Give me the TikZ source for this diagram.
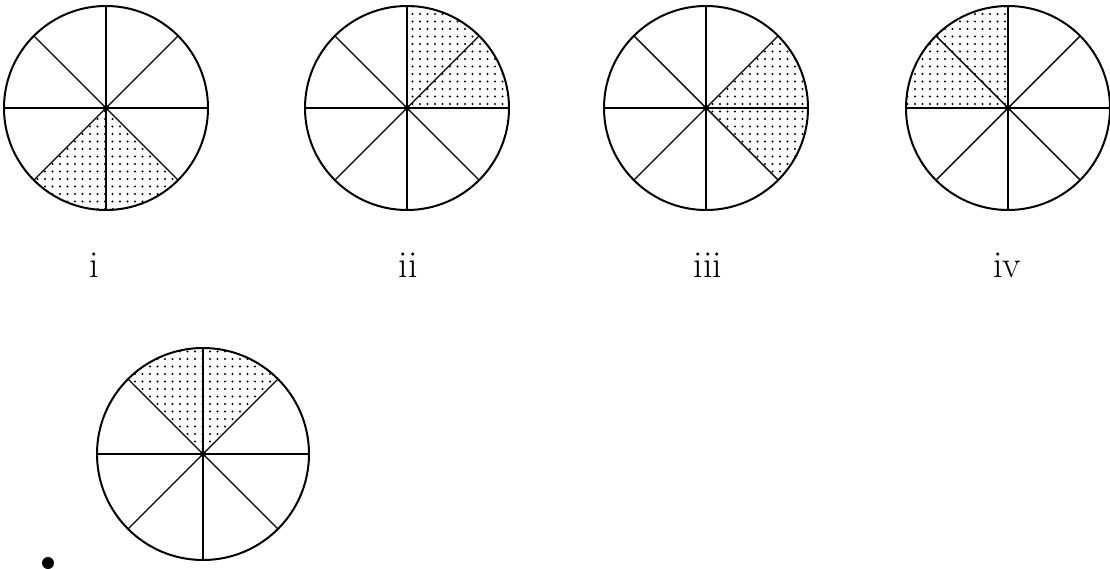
\documentclass[tikz,border=0pt]{standalone}
\usepackage{tikz}
\usetikzlibrary{patterns.meta}
\tikzset{
  wheel/.style={circle,inner sep=0pt,outer sep=0pt},
  rim/.style={line width=2pt},
  spoke/.style={line width=1.4pt},
  shade/.style={pattern={Dots[radius=1.2pt,distance=7.5pt]},pattern color=black},
  lab/.style={font=\fontsize{38}{38}\selectfont,anchor=base,inner sep=0pt},
  bul/.style={circle,fill=black,inner sep=0pt,minimum size=12pt}
}
\begin{document}
\begin{tikzpicture}[x=1pt,y=1pt]
\useasboundingbox (0,0) rectangle (1110,-569);
% name, centre, radius, shaded from, shaded to
\newcommand{\wh}[5]{%
 \node[wheel,minimum size={2*#3pt}] (#1) at (#2) {};
 \fill[shade] (#1.center) -- (#1.#4) arc[start angle=#4,end angle=#5,radius=#3pt] -- cycle;
 \foreach \a in {0,45,...,315} \draw[spoke] (#1.center) -- (#1.\a);
 \draw[rim] (#1.center) circle[radius=#3pt];
 \fill (#1.center) circle[radius=3pt];}
\wh{w1}{106,-108}{102}{225}{315}
\wh{w2}{407,-108}{102}{0}{90}
\wh{w3}{706,-108}{102}{-45}{45}
\wh{w4}{1008,-108}{102}{90}{180}
\wh{w5}{203,-454}{106}{45}{135}
\node[lab] (l1) at (94,-277) {i};
\node[lab] (l2) at (408,-277) {ii};
\node[lab] (l3) at (708,-277) {iii};
\node[lab] (l4) at (1007,-277) {iv};
\node[bul] (bl) at (48,-563) {};
\end{tikzpicture}
\end{document}
